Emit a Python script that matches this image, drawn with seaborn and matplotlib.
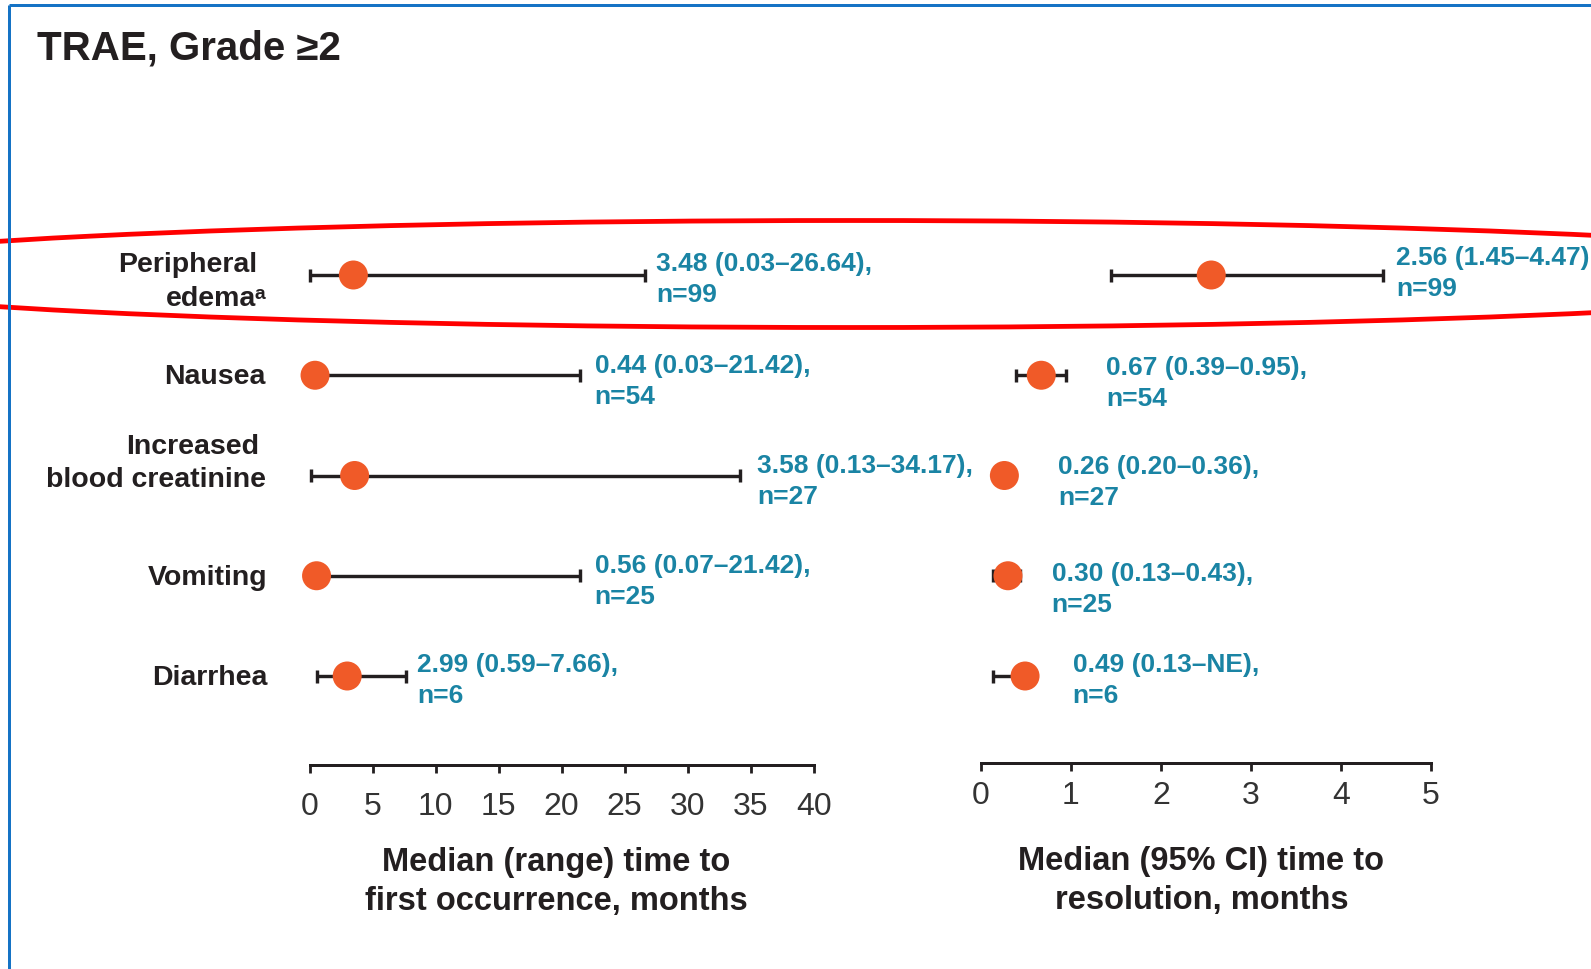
import numpy as np
import pandas as pd
import matplotlib
matplotlib.use("Agg")
import matplotlib.pyplot as plt
from matplotlib.patches import Ellipse
import seaborn as sns

# ---------------------------------------------------------------- data
event_lines = [["Peripheral", "edemaᵃ"], ["Nausea"], ["Increased", "blood creatinine"],
               ["Vomiting"], ["Diarrhea"]]
onset_median = [3.48, 0.44, 3.58, 0.56, 2.99]
onset_low = [0.03, 0.03, 0.13, 0.07, 0.59]
onset_high = [26.64, 21.42, 34.17, 21.42, 7.66]
resolution_median = [2.56, 0.67, 0.26, 0.30, 0.49]
resolution_low = [1.45, 0.39, 0.20, 0.13, 0.13]
resolution_high = [4.47, 0.95, 0.36, 0.43, None]   # None: upper limit not estimable
patients = [99, 54, 27, 25, 6]
onset_ticks = [0, 5, 10, 15, 20, 25, 30, 35, 40]
resolution_ticks = [0, 1, 2, 3, 4, 5]

# ---------------------------------------------------------------- style
sns.set_theme(style="white")
plt.rcParams["font.family"] = ["Liberation Sans", "DejaVu Sans"]
DARK = "#231f20"
TEAL = "#1a84a4"
ORANGE = "#f05a28"
BLUE = "#1573c5"

W, H = 1591, 970
PX = 72 / 100  # points per pixel at dpi=100
fig = plt.figure(figsize=(W / 100, H / 100), dpi=100)

ROW_TOP = 276          # pixel row of the first event
ROW_STEP = 100.25      # pixels between events
AX_TOP = 226


def panel(x0, x1, bottom):
    ax = fig.add_axes([x0 / W, 1 - bottom / H, (x1 - x0) / W, (bottom - AX_TOP) / H])
    ax.set_ylim((bottom - ROW_TOP) / ROW_STEP, (AX_TOP - ROW_TOP) / ROW_STEP)
    return ax


ax1 = panel(309.5, 813.8, 766)
ax2 = panel(981, 1430.7, 764)

rows = np.arange(len(event_lines))
df = pd.DataFrame({
    "row": rows,
    "onset_median": onset_median, "onset_low": onset_low, "onset_high": onset_high,
    "res_median": resolution_median, "res_low": resolution_low,
    "res_high": [np.nan if v is None else v for v in resolution_high],
    "n": patients,
})

CAP = 6.5 / ROW_STEP
LW = 3.4 * PX


def draw_ranges(ax, med, lo, hi):
    for r, m, a, b in zip(df["row"], df[med], df[lo], df[hi]):
        end = m if np.isnan(b) else b
        ax.hlines(r, a, end, color=DARK, lw=LW, zorder=2)
        ax.vlines(a, r - CAP, r + CAP, color=DARK, lw=LW, zorder=2)
        if not np.isnan(b):
            ax.vlines(b, r - CAP, r + CAP, color=DARK, lw=LW, zorder=2)
    sns.scatterplot(data=df, x=med, y="row", ax=ax, s=(29 * PX) ** 2, color=ORANGE,
                    edgecolor="none", zorder=3, legend=False)
    for c in ax.collections:
        c.set_clip_on(False)


draw_ranges(ax1, "onset_median", "onset_low", "onset_high")
draw_ranges(ax2, "res_median", "res_low", "res_high")

# axes styling
for ax, ticks, pad in ((ax1, onset_ticks, 17.5), (ax2, resolution_ticks, 9)):
    ax.set_xlim(ticks[0], ticks[-1])
    ax.set_xticks(ticks)
    ax.set_xticklabels([str(t) for t in ticks])
    ax.set_yticks([])
    ax.set_ylabel("")
    for s in ("top", "right", "left"):
        ax.spines[s].set_visible(False)
    ax.spines["bottom"].set_linewidth(3 * PX)
    ax.spines["bottom"].set_color(DARK)
    ax.tick_params(axis="x", bottom=True, direction="out", length=6, width=2.8 * PX,
                   color=DARK, pad=pad * PX, labelsize=23, labelcolor="#333333")
    ax.patch.set_alpha(0)

ax1.set_xlabel("Median (range) time to\nfirst occurrence, months", fontsize=23.5,
               fontweight="bold", color=DARK, linespacing=1.33)
ax1.xaxis.set_label_coords((556 - 309.5) / 504.3, (766 - 882) / 540)
ax2.set_xlabel("Median (95% CI) time to\nresolution, months", fontsize=23.5,
               fontweight="bold", color=DARK, linespacing=1.33)
ax2.xaxis.set_label_coords((1201.5 - 981) / 449.7, (764 - 881) / 538)
for ax in (ax1, ax2):
    ax.xaxis.label.set_va("center")

# event names, one text per line: (pixel offset left of axis, baseline offset from row)
name_layout = [[(-52, -4), (-43, 30)], [(-44, 8)], [(-50, -22), (-43, 11)], [(-42, 8)], [(-42, 8)]]
for r, lines, lay in zip(rows, event_lines, name_layout):
    for text, (dx, dy) in zip(lines, lay):
        ax1.annotate(text, xy=(0, r), xycoords=ax1.get_yaxis_transform(),
                     xytext=(dx, -dy), textcoords="offset pixels", ha="right",
                     va="baseline", fontsize=20.5, fontweight="bold", color=DARK,
                     annotation_clip=False)


# value labels next to each range
def fmt(m, a, b, n):
    upper = "NE" if np.isnan(b) else f"{b:.2f}"
    return f"{m:.2f} ({a:.2f}–{upper}),\nn={n}"


onset_pad = [(11, 3.5), (15, 5), (17, 5), (15, 5), (11, 3.5)]
res_pad = [(13, -2.5), (39.5, 7), (44.5, 6), (32, 13), (47.5, 3.5)]
for ax, med, lo, hi, pads in ((ax1, "onset_median", "onset_low", "onset_high", onset_pad),
                              (ax2, "res_median", "res_low", "res_high", res_pad)):
    for (_, rec), (dx, dy) in zip(df.iterrows(), pads):
        anchor = rec[med] if np.isnan(rec[hi]) else rec[hi]
        ax.annotate(fmt(rec[med], rec[lo], rec[hi], int(rec["n"])), xy=(anchor, rec["row"]),
                    xytext=(dx, -dy), textcoords="offset pixels", ha="left", va="center",
                    fontsize=19, fontweight="bold", color=TEAL, linespacing=1.38,
                    annotation_clip=False)

# title
fig.text(37 / W, 1 - 60 / H, "TRAE, Grade ≥2", fontsize=29, fontweight="bold",
         color=DARK, ha="left", va="baseline")

# frame lines and highlight ring drawn in pixel space
ov = fig.add_axes([0, 0, 1, 1], zorder=10)
ov.set_xlim(0, W)
ov.set_ylim(H, 0)
ov.axis("off")
ov.plot([9, 9], [6, H], color=BLUE, lw=3 * PX, solid_capstyle="butt")
ov.plot([9, W], [6, 6], color=BLUE, lw=3 * PX, solid_capstyle="butt")
ov.add_patch(Ellipse((850, 275), 2150, 107, fill=False, ec="#ff0000", lw=4.8 * PX))

fig.savefig("out.png", dpi=100)
